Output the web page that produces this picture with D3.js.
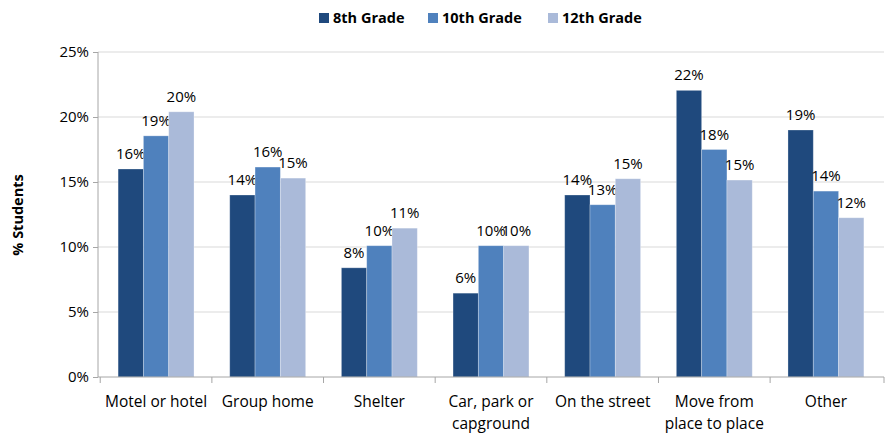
<!DOCTYPE html>
<html><head><meta charset="utf-8">
<script src="https://cdn.jsdelivr.net/npm/d3@7"></script>
<style>body{margin:0;background:#fff}svg{display:block;font-family:"Open Sans","Noto Sans",sans-serif}</style>
</head><body><svg id="c" width="888" height="433"></svg>
<script>
const categories = [["Motel or hotel"],["Group home"],["Shelter"],["Car, park or","capground"],["On the street"],["Move from","place to place"],["Other"]];
const seriesNames = ["8th Grade","10th Grade","12th Grade"];
const grade8 = [16.0, 14.0, 8.4, 6.45, 14.0, 22.05, 19.0];
const grade10 = [18.55, 16.15, 10.1, 10.1, 13.25, 17.5, 14.3];
const grade12 = [20.4, 15.3, 11.45, 10.1, 15.25, 15.15, 12.25];
const yTicks = [0,5,10,15,20,25];
const colors = ["#1f497d","#4f81bd","#aabad9"];

const series = [grade8, grade10, grade12];
const svg = d3.select("#c");
const m = {l:98, r:884, t:52, b:377};
const keys = categories.map((c,i)=>i);
const x0 = d3.scaleBand().domain(keys).range([m.l, m.r]).paddingInner(0.32).paddingOuter(0.18);
const x1 = d3.scaleBand().domain([0,1,2]).range([0, x0.bandwidth()]);
const y = d3.scaleLinear().domain([0,25]).range([m.b, m.t]);

// gridlines
svg.append("g").selectAll("line").data(yTicks.filter(d=>d>0)).join("line")
  .attr("x1", m.l).attr("x2", m.r).attr("y1", d=>y(d)).attr("y2", d=>y(d))
  .attr("stroke", "#d9d9d9").attr("stroke-width", 1);

// bars
const g = svg.append("g");
series.forEach((s, si) => {
  g.selectAll(null).data(s).join("rect")
    .attr("x", (d,i)=>x0(i)+x1(si))
    .attr("y", d=>y(d))
    .attr("width", x1.bandwidth())
    .attr("height", d=>y(0)-y(d))
    .attr("fill", colors[si])
    .attr("stroke", "#fff").attr("stroke-opacity",0.35).attr("stroke-width", 0.8);
  g.selectAll(null).data(s).join("text")
    .attr("x", (d,i)=>x0(i)+x1(si)+x1.bandwidth()/2)
    .attr("y", d=>y(d)-10)
    .attr("text-anchor","middle")
    .attr("font-size", 15).attr("fill","#000")
    .text(d=>Math.round(d)+"%");
});

// y axis
const ya = svg.append("g").attr("transform",`translate(${m.l},0)`)
  .call(d3.axisLeft(y).tickValues(yTicks).tickFormat(d=>d+"%").tickSize(5).tickPadding(4));
ya.select(".domain").attr("stroke","#a6a6a6").attr("d",`M0,${m.t}V${m.b}`);
ya.selectAll(".tick line").attr("stroke","#a6a6a6");
ya.selectAll(".tick text").attr("font-size",15).attr("fill","#000").attr("font-family","'Open Sans','Noto Sans',sans-serif");

// x axis baseline & ticks
const xa = svg.append("g");
xa.append("line").attr("x1",m.l).attr("x2",m.r).attr("y1",m.b).attr("y2",m.b).attr("stroke","#a6a6a6");
const bounds = keys.map(i=>x0(i)-x0.step()*x0.paddingInner()/2).concat([m.r]);
xa.selectAll(null).data(bounds).join("line")
  .attr("x1",d=>d).attr("x2",d=>d).attr("y1",m.b).attr("y2",m.b+6).attr("stroke","#a6a6a6");
const cl = xa.selectAll(null).data(categories).join("text")
  .attr("x",(d,i)=>x0(i)+x0.bandwidth()/2).attr("y",407)
  .attr("text-anchor","middle").attr("font-size",15.5).attr("fill","#000");
cl.selectAll("tspan").data(d=>d).join("tspan")
  .attr("x", function(){return this.parentNode.getAttribute("x");})
  .attr("dy",(d,j)=>j===0?0:22).text(d=>d);

// y title
svg.append("text").attr("transform","translate(23,215) rotate(-90)")
  .attr("text-anchor","middle").attr("font-size",14.5).attr("font-weight","bold").text("% Students");

// legend
const legX = [319, 428, 548];
const lg = svg.append("g");
seriesNames.forEach((n,i)=>{
  lg.append("rect").attr("x",legX[i]).attr("y",13).attr("width",10).attr("height",10).attr("fill",colors[i]);
  lg.append("text").attr("x",legX[i]+14).attr("y",23).attr("font-size",14.5).attr("font-weight","bold").text(n);
});
</script></body></html>
